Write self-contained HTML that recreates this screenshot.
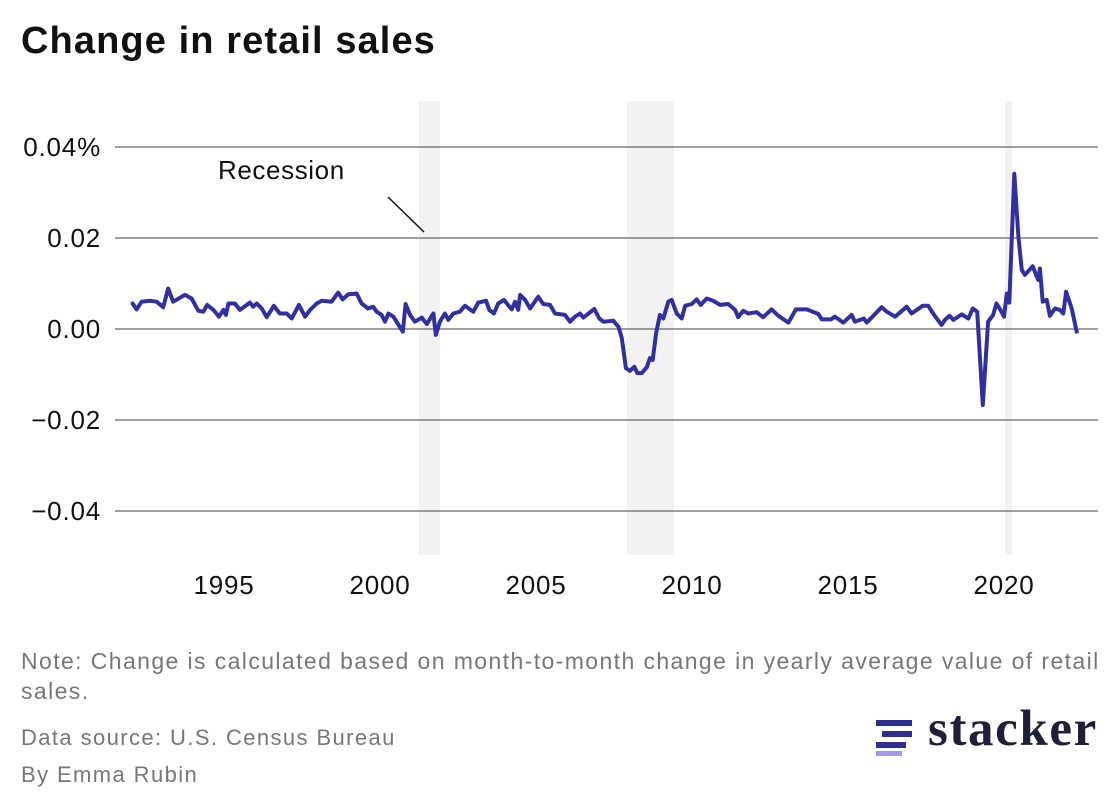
<!DOCTYPE html>
<html><head><meta charset="utf-8"><style>
body{margin:0;background:#fff;font-family:"Liberation Sans",sans-serif;}
#wrap{position:relative;width:1120px;height:810px;overflow:hidden;}
.title{position:absolute;left:21px;top:20px;font-size:38px;font-weight:bold;color:#111;letter-spacing:1.1px;}
.note{position:absolute;left:21px;font-size:22px;color:#777;line-height:30px;letter-spacing:1.4px;white-space:nowrap;}
</style></head><body>
<div id="wrap">
<div class="title">Change in retail sales</div>
<svg id="chart" width="1120" height="640" style="position:absolute;left:0;top:0"></svg>
<div class="note" style="top:646px;font-size:23px;letter-spacing:1.4px">Note: Change is calculated based on month-to-month change in yearly average value of retail<br>sales.</div>
<div class="note" style="top:723px">Data source: U.S. Census Bureau</div>
<div class="note" style="top:760px">By Emma Rubin</div>
<div style="position:absolute;left:874px;top:712px;width:240px;height:48px;">
<svg width="40" height="40" style="position:absolute;left:0;top:6px">
<rect x="2" y="2" width="36" height="6" fill="#2e2e8f"/><rect x="8" y="13" width="30" height="6" fill="#2e2e8f"/><rect x="2" y="24" width="30" height="6" fill="#2e2e8f"/><rect x="2" y="33" width="26" height="5" fill="#9e9af0"/>
</svg>
<div style="position:absolute;left:54px;top:-12px;font-family:'Liberation Serif',serif;font-size:51px;font-weight:bold;color:#1f1f3a;letter-spacing:1.6px;">stacker</div>
</div>
</div>
<script>
const years=[1992.07,1992.20,1992.36,1992.63,1992.84,1993.05,1993.21,1993.37,1993.75,1993.96,1994.18,1994.34,1994.46,1994.66,1994.84,1994.98,1995.06,1995.14,1995.35,1995.51,1995.83,1995.94,1996.05,1996.21,1996.37,1996.60,1996.79,1997.01,1997.17,1997.40,1997.60,1997.76,1997.97,1998.13,1998.45,1998.66,1998.80,1998.98,1999.25,1999.41,1999.62,1999.78,1999.89,2000.05,2000.16,2000.27,2000.43,2000.73,2000.82,2000.96,2001.12,2001.34,2001.50,2001.71,2001.79,2001.92,2002.08,2002.19,2002.35,2002.56,2002.72,2002.99,2003.15,2003.40,2003.50,2003.65,2003.79,2003.97,2004.22,2004.33,2004.43,2004.49,2004.65,2004.81,2005.07,2005.23,2005.45,2005.61,2005.93,2006.09,2006.25,2006.41,2006.52,2006.87,2007.03,2007.16,2007.48,2007.64,2007.75,2007.88,2008.01,2008.15,2008.25,2008.39,2008.55,2008.65,2008.74,2008.85,2008.97,2009.08,2009.24,2009.35,2009.51,2009.67,2009.78,2009.99,2010.15,2010.28,2010.47,2010.68,2010.90,2011.16,2011.38,2011.48,2011.64,2011.80,2012.07,2012.28,2012.55,2012.77,2013.09,2013.33,2013.68,2014.05,2014.16,2014.45,2014.58,2014.85,2015.12,2015.22,2015.51,2015.60,2015.81,2016.08,2016.24,2016.51,2016.88,2017.04,2017.39,2017.57,2017.76,2018.00,2018.11,2018.25,2018.38,2018.64,2018.86,2019.00,2019.14,2019.32,2019.49,2019.65,2019.76,2019.92,2020.00,2020.09,2020.17,2020.33,2020.46,2020.57,2020.67,2020.92,2021.03,2021.10,2021.15,2021.24,2021.37,2021.47,2021.63,2021.79,2021.90,2021.99,2022.17,2022.33];
const changeMilli=[5.6,4.3,6.0,6.2,6.0,4.8,8.9,6.0,7.5,6.7,4.0,3.8,5.3,4.2,2.7,4.2,3.1,5.6,5.6,4.2,5.8,4.9,5.6,4.5,2.6,5.1,3.4,3.4,2.3,5.3,2.7,4.2,5.6,6.2,6.0,8.0,6.5,7.6,7.8,5.6,4.5,4.9,3.8,3.1,1.6,3.4,2.7,-0.6,5.5,3.1,1.6,2.5,1.1,3.4,-1.3,1.6,3.4,2.0,3.4,3.8,5.1,3.8,5.8,6.2,4.2,3.4,5.6,6.4,4.3,6.0,4.2,7.5,6.4,4.5,7.1,5.5,5.3,3.4,3.1,1.6,2.7,3.4,2.5,4.4,2.3,1.6,1.8,0.5,-2.0,-8.6,-9.2,-8.3,-9.7,-9.7,-8.4,-6.4,-6.8,-0.9,3.1,2.3,6.0,6.4,3.4,2.3,5.1,5.5,6.5,5.3,6.7,6.2,5.3,5.5,4.2,2.6,4.0,3.4,3.7,2.6,4.3,2.9,1.4,4.3,4.3,3.3,2.1,2.1,2.7,1.4,3.1,1.6,2.3,1.4,2.9,4.8,3.8,2.7,4.9,3.4,5.1,5.1,3.1,0.9,2.0,2.9,2.0,3.2,2.3,4.5,3.8,-16.7,1.6,3.1,5.6,3.8,2.7,7.8,5.8,34.1,20.3,13.0,11.9,13.8,11.9,10.8,13.3,6.0,6.4,2.9,4.5,4.2,3.4,8.2,4.5,-0.6];
const yTicks=[0.04,0.02,0,-0.02,-0.04];
const yTickLabels=["0.04%","0.02","0.00","\u22120.02","\u22120.04"];
const xTicks=[1995,2000,2005,2010,2015,2020];
const recStart=[2001.25,2007.92,2020.03];
const recEnd=[2001.92,2009.42,2020.25];

const NS="http://www.w3.org/2000/svg";
const svg=document.getElementById('chart');
const X=y=>224+(y-1995)*31.2;
const Y=v=>329-v/0.02*91;
function mk(tag,attrs,parent){const e=document.createElementNS(NS,tag);for(const k in attrs)e.setAttribute(k,attrs[k]);(parent||svg).appendChild(e);return e;}

recStart.forEach((s,i)=>{
  const r=mk('rect',{x:X(s),y:101,width:X(recEnd[i])-X(s),height:454,fill:'#f2f2f2'});
  
  
});
yTicks.forEach((t,i)=>{
  const l=mk('line',{x1:115,x2:1098,y1:Y(t),y2:Y(t),stroke:'#666','stroke-width':1.3});
  
  
  const tx=mk('text',{x:101,y:Y(t)+9,'text-anchor':'end','font-size':26,'letter-spacing':0.8,fill:'#111'});
  tx.textContent=yTickLabels[i];
  
  
});
xTicks.forEach(t=>{
  const tx=mk('text',{x:X(t),y:594,'text-anchor':'middle','font-size':26,'letter-spacing':0.8,fill:'#111'});
  tx.textContent=t;
  
  
});
const ann=mk('text',{x:218,y:179,'font-size':26,'letter-spacing':0.6,fill:'#111'});
ann.textContent='Recession';


const al=mk('line',{x1:388,y1:197,x2:424,y2:232,stroke:'#111','stroke-width':1.5});


const d=years.map((y,i)=>(i?'L':'M')+X(y).toFixed(1)+','+Y(changeMilli[i]/1000).toFixed(1)).join(' ');
const p=mk('path',{d:d,fill:'none',stroke:'#3030a0','stroke-width':4,'stroke-linejoin':'round','stroke-linecap':'round'});


</script>
</body></html>
